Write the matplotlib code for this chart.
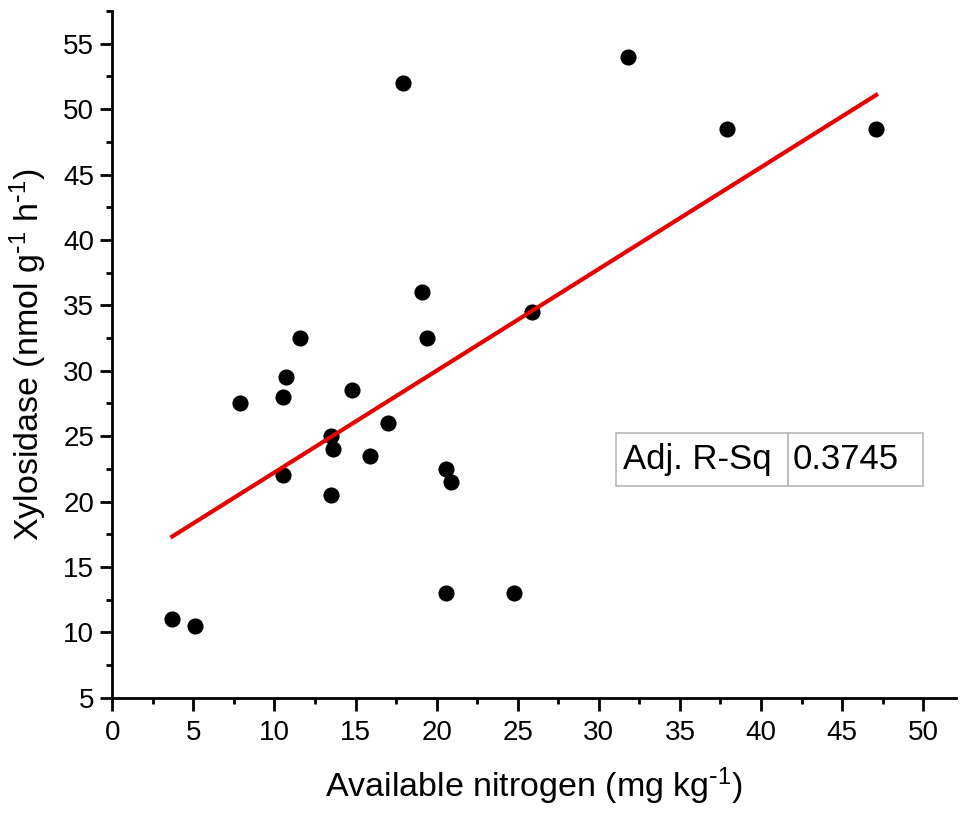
import numpy as np
import matplotlib
matplotlib.use("Agg")
import matplotlib.pyplot as plt
from matplotlib.ticker import MultipleLocator

plt.rcParams['font.family'] = ['Liberation Sans', 'DejaVu Sans']
plt.rcParams['mathtext.default'] = 'regular'

# Available nitrogen (mg/kg) and xylosidase activity
nitrogen = [3.7, 5.1, 7.9, 10.5, 10.7, 11.6, 10.5, 13.5, 13.6, 13.5, 14.8, 15.9,
            17.0, 17.9, 19.1, 19.4, 20.6, 20.9, 20.6, 24.8, 25.9, 31.8, 37.9, 47.1]
xylosidase = [11.0, 10.5, 27.5, 28.0, 29.5, 32.5, 22.0, 25.0, 24.0, 20.5, 28.5, 23.5,
              26.0, 52.0, 36.0, 32.5, 22.5, 21.5, 13.0, 13.0, 34.5, 54.0, 48.5, 48.5]
adj_r_sq = 0.3745

x = np.array(nitrogen)
y = np.array(xylosidase)

fig = plt.figure(figsize=(9.62, 8.15), dpi=100)
ax = fig.add_axes([0.1167, 0.1439, 0.8767, 0.8426])

ax.scatter(x, y, s=135, color='black', zorder=3, linewidths=0)

# linear fit
slope, intercept = np.polyfit(x, y, 1)
xf = np.array([x.min(), x.max()])
ax.plot(xf, slope * xf + intercept, color='#e60000', lw=3, zorder=4)

ax.set_xlim(0, 52)
ax.set_ylim(5, 57.5)
ax.xaxis.set_major_locator(MultipleLocator(5))
ax.xaxis.set_minor_locator(MultipleLocator(2.5))
ax.yaxis.set_major_locator(MultipleLocator(5))
ax.yaxis.set_minor_locator(MultipleLocator(2.5))

for side in ['top', 'right']:
    ax.spines[side].set_visible(False)
for side in ['left', 'bottom']:
    ax.spines[side].set_linewidth(2)

ax.tick_params(which='major', length=9, width=2, labelsize=20)
ax.tick_params(which='minor', length=4, width=2)
ax.tick_params(axis='x', which='major', pad=7)
ax.tick_params(axis='y', which='major', pad=4)

ax.set_xlabel(r'Available nitrogen (mg kg$^{\text{-}1}$)', fontsize=24.5, labelpad=14)
ax.set_ylabel(r'Xylosidase (nmol g$^{\text{-}1}$ h$^{\text{-}1}$)', fontsize=24.5, labelpad=10)

# Adj. R-Sq box
tbl = ax.table(cellText=[['Adj. R-Sq', f'{adj_r_sq:.4f}']],
               cellLoc='left', bbox=[0.597, 0.308, 0.364, 0.0775],
               colWidths=[0.56, 0.44])
tbl.auto_set_font_size(False)
tbl.set_fontsize(25)
for key, cell in tbl.get_celld().items():
    cell.set_edgecolor('#b8b8b8')
    cell.set_linewidth(1.2)
    cell.PAD = 0.04

fig.savefig('out.png', dpi=100)
